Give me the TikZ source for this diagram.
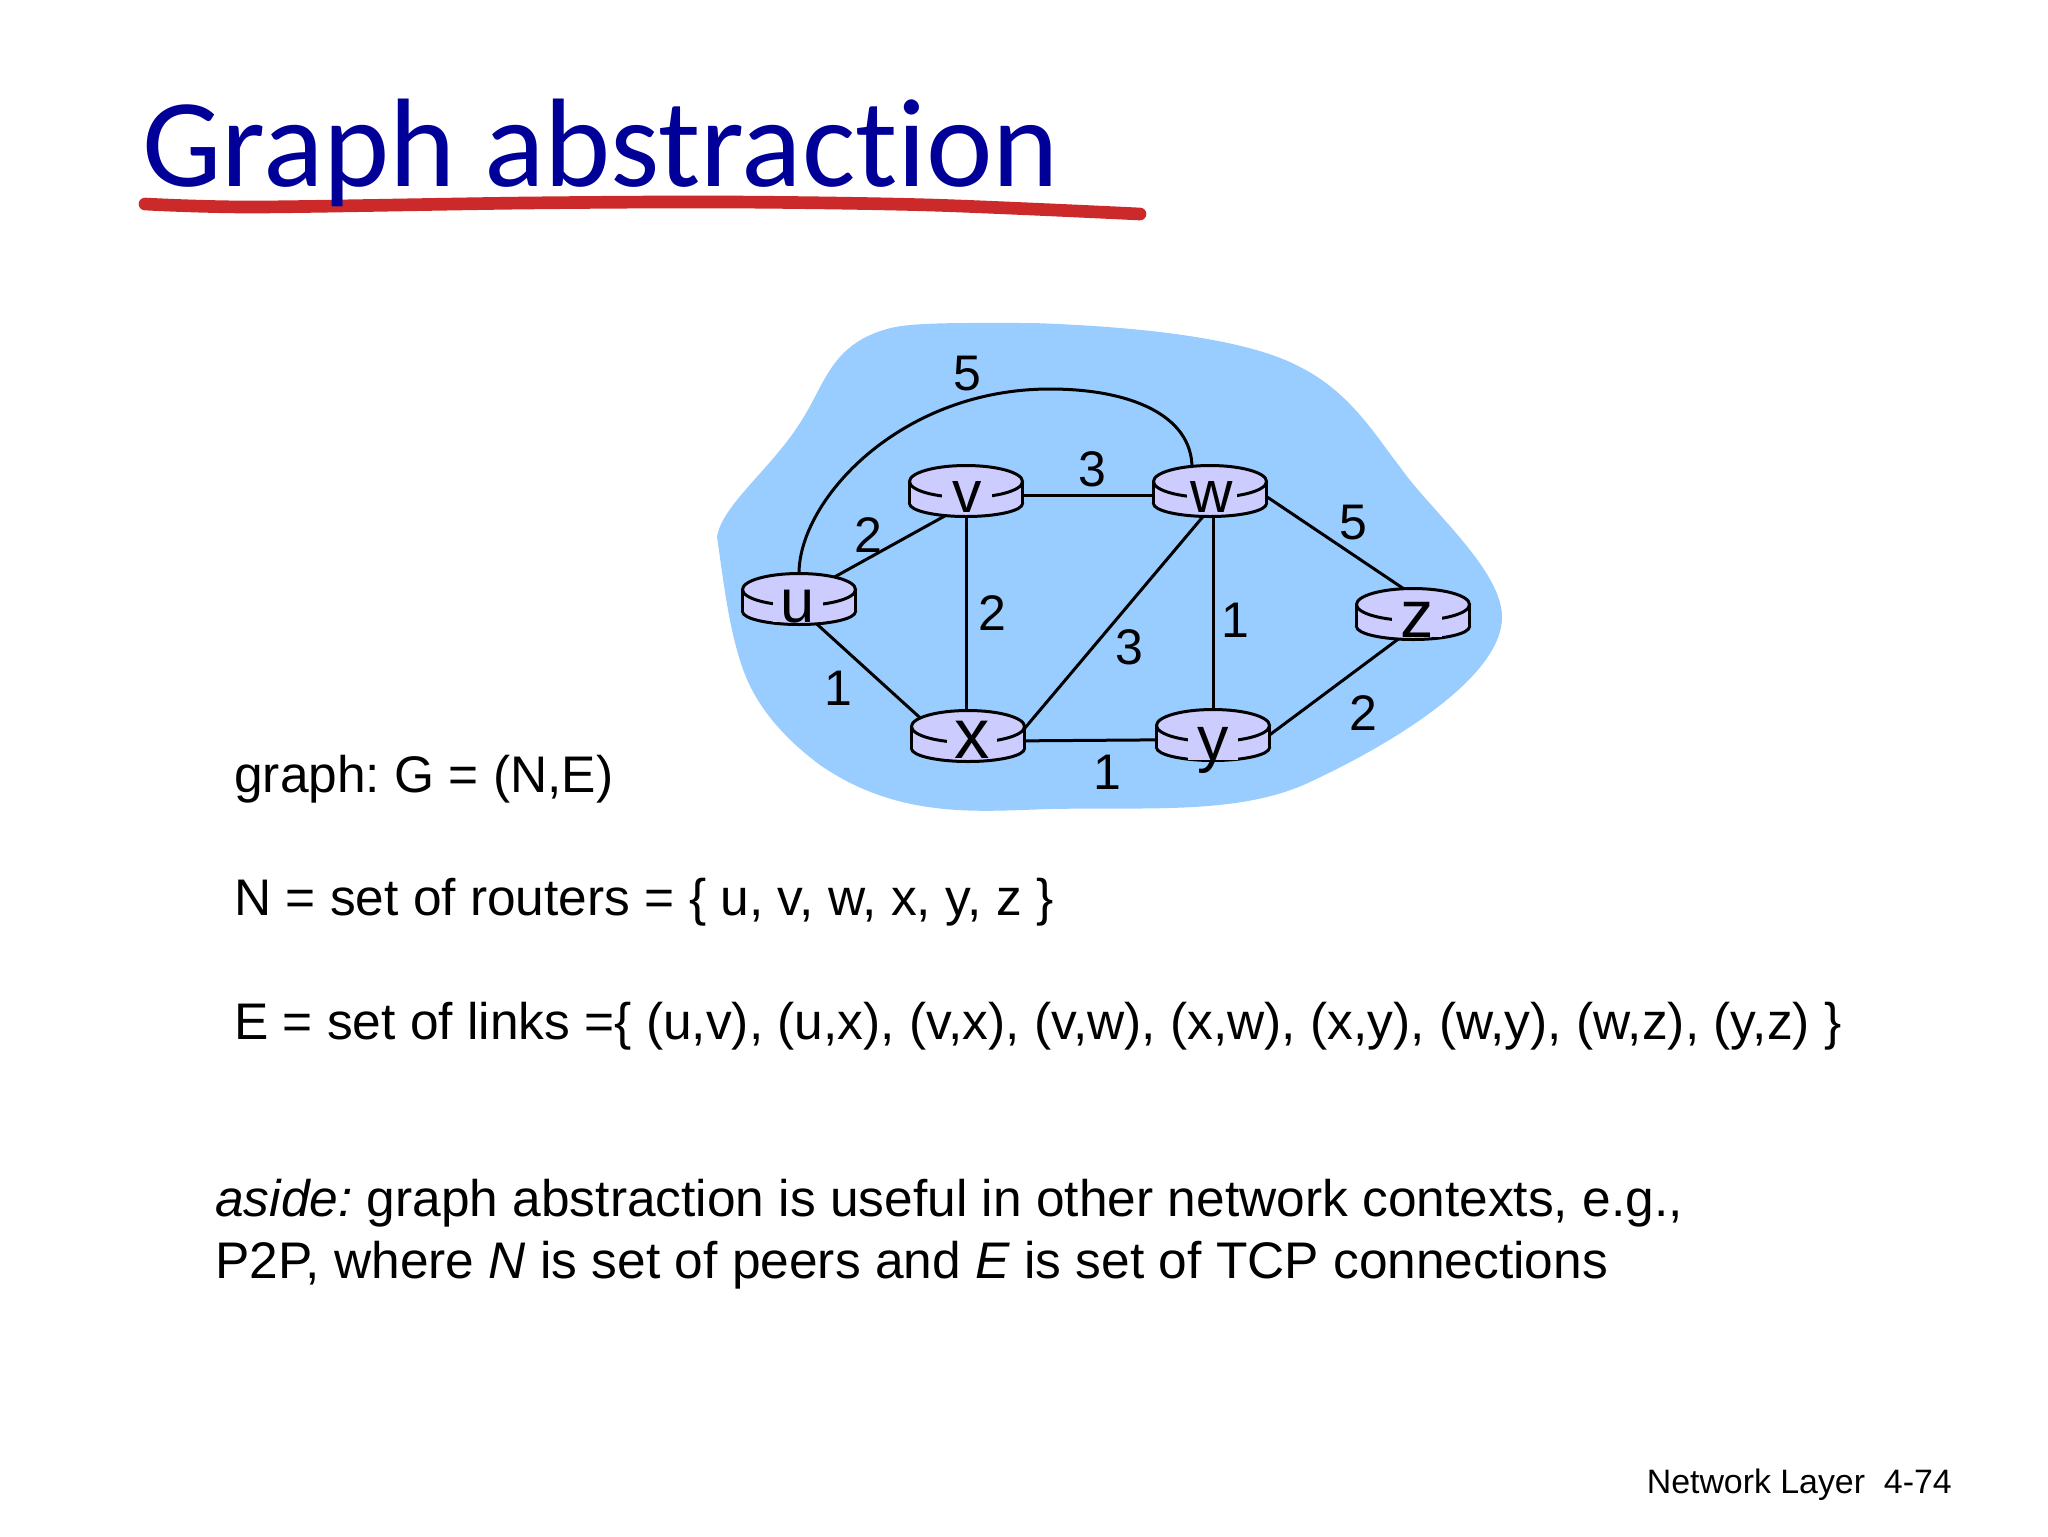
\documentclass[tikz,border=0pt]{standalone}
\usepackage{fontspec}
\setmainfont{Liberation Sans}
\newfontfamily\titlefont[Ligatures=NoCommon]{Carlito}
\usetikzlibrary{shapes.geometric}
\definecolor{titleblue}{HTML}{000099}
\definecolor{brushred}{HTML}{CC2A2A}
\definecolor{cloudblue}{HTML}{99CCFF}
\definecolor{routerlilac}{HTML}{CCCCFF}
\frenchspacing
\tikzset{
  router/.style={ellipse,minimum width=84.75pt,minimum height=38.25pt,inner sep=0pt,outer sep=0pt},
  routertext/.style={anchor=base,fill=routerlilac,minimum width=37.5pt,inner sep=0pt,text height=23pt,text depth=0pt},
  weight/.style={inner sep=0.75pt,font=\fontsize{37.5}{37.5}\selectfont},
  bodytext/.style={anchor=base west,inner sep=0pt,font=\fontsize{38.6}{47}\selectfont},
  link/.style={line width=2.25pt}
}
\begin{document}
\begin{tikzpicture}[x=0.75pt,y=0.75pt,yscale=-1,xscale=1]
\useasboundingbox (0,0) rectangle (2048,1536);
\fill[white] (0,0) rectangle (2048,1536);

%Shape: Brush underline
\draw [brushred,line width=9.5pt,line cap=round,line join=round] plot [smooth] coordinates {(145,204) (255,207) (525,203) (730,202) (930,205) (1140,214)};
% Text Node
\draw (142,186) node [anchor=base west,inner sep=0pt,text=titleblue,font=\titlefont\fontsize{94.5}{95}\selectfont] (title) {Graph abstraction};

%Shape: Cloud
\fill [cloudblue] (717,537) .. controls (722,505) and (770,470) .. (800,423) .. controls (825,385) and (830,345) .. (887,329) .. controls (910,322) and (960,323) .. (1033,323) .. controls (1150,327) and (1250,340) .. (1300,367) .. controls (1350,392) and (1375,435) .. (1400,467) .. controls (1430,510) and (1502,570) .. (1502,617) .. controls (1502,675) and (1400,740) .. (1310,782) .. controls (1240,815) and (1150,807) .. (1050,809) .. controls (980,811) and (900,820) .. (820,765) .. controls (760,720) and (745,680) .. (737,650) .. controls (727,615) and (722,570) .. (717,537) -- cycle;

%Routers
\node [router] (u) at (799,599) {};
\node [router] (v) at (966,491) {};
\node [router] (w) at (1210,491) {};
\node [router] (x) at (968,736) {};
\node [router] (y) at (1213,735) {};
\node [router] (z) at (1413,614) {};
\coordinate (wtop) at (1192,468);

%Straight Lines
\draw [link] (u.32) -- (v.231);
\draw [link] (u.-55) -- (x.161);
\draw [link] (v.south) -- (x.north -| v.south);
\draw [link] (v.-5) -- (w.185);
\draw [link] (x.6) -- (w.255);
\draw [link] (x.-5) -- (y.185);
\draw [link] (w.south -| y.north) -- (y.north);
\draw [link] (w.-5) -- (z.110);
\draw [link] (y.0) -- (z.240);
%Curve
\draw [link] (u.north) .. controls (799,500) and (900,389) .. (1050,389) .. controls (1130,389) and (1192,415) .. (wtop);

%Router bodies
\foreach \name in {u,v,w,x,y,z} {
  \begin{scope}[shift={(\name)},line width=2.25pt]
    \filldraw [fill=routerlilac] (0,12.5) ellipse [x radius=56.5,y radius=13];
    \fill [routerlilac] (-56.5,-9.5) rectangle (56.5,12.5);
    \draw (-56.5,-9.5) -- (-56.5,12.5) (56.5,-9.5) -- (56.5,12.5);
    \filldraw [fill=routerlilac] (0,-9.5) ellipse [x radius=56.5,y radius=16];
  \end{scope}
}

% Text Node
\node [routertext,font=\fontsize{46}{46}\selectfont] (ulabel) at (798,622) {u};
\node [routertext,font=\fontsize{44}{44}\selectfont] (vlabel) at (967,512) {v};
\node [routertext,font=\fontsize{44}{44}\selectfont] (wlabel) at (1212,512) {w};
\node [routertext,font=\fontsize{53}{53}\selectfont] (xlabel) at (972,758) {x};
\node [routertext,font=\fontsize{47}{47}\selectfont] (ylabel) at (1213,760) {y};
\node [routertext,font=\fontsize{50}{50}\selectfont] (zlabel) at (1417,637) {z};

% Text Node
\node [weight] (wuw) at (967,374) {5};
\node [weight] (wuv) at (868,535) {2};
\node [weight] (wvw) at (1092,469) {3};
\node [weight] (wvx) at (992,613) {2};
\node [weight] (wux) at (838,688) {1};
\node [weight] (wxw) at (1129,647) {3};
\node [weight] (wwy) at (1235,620) {1};
\node [weight] (wwz) at (1353,523) {5};
\node [weight] (wyz) at (1363,713) {2};
\node [weight] (wxy) at (1107,772) {1};

% Text Node
\draw (234,792) node [bodytext] (graphline) {graph: G = (N,E)};
\draw (234,915) node [bodytext] (nodeline) {N = set of routers = \{ u, v, w, x, y, z \}};
\draw (234,1039) node [bodytext] (edgeline) {E = set of links =\{ (u,v), (u,x), (v,x), (v,w), (x,w), (x,y), (w,y), (w,z), (y,z) \}};
\draw (215,1216) node [bodytext] (asideone) {\textit{aside:} graph abstraction is useful in other network contexts, e.g.,};
\draw (215,1278) node [bodytext] (asidetwo) {P2P, where \textit{N} is set of peers and \textit{E} is set of TCP connections};
\draw (1952,1493) node [anchor=base east,inner sep=0pt,font=\fontsize{25.4}{27}\selectfont] (footer) {Network Layer\ \ 4-74};
\end{tikzpicture}
\end{document}
